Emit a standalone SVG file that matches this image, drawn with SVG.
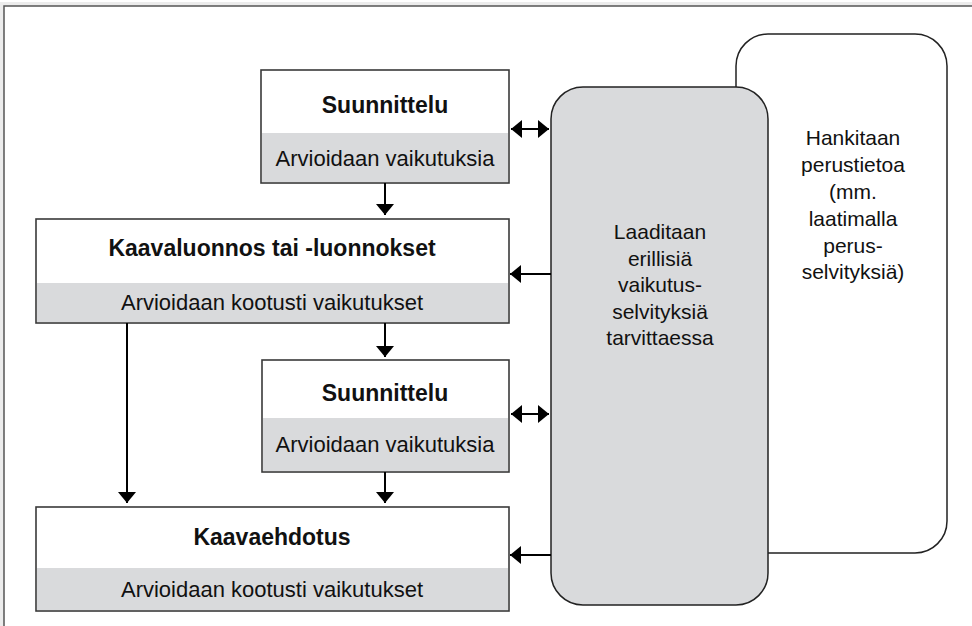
<svg xmlns="http://www.w3.org/2000/svg" width="972" height="626" viewBox="0 0 972 626">
<defs>
<style>
.box{fill:#ffffff;stroke:#3a3a3a;stroke-width:1.6}
.band{fill:#d9dadc}
.t{font-family:"Liberation Sans",Arial,sans-serif;font-size:22px;fill:#111;text-anchor:middle;dominant-baseline:central}
.b{font-weight:bold;font-size:23px}
.s{font-size:21px}
.c{stroke:#000;stroke-width:2;fill:none}
</style>
<marker id="ahd" viewBox="0 0 11 18" refX="11" refY="9" markerWidth="11" markerHeight="18" markerUnits="userSpaceOnUse" orient="auto-start-reverse">
<path d="M0,0 L11,9 L0,18 z" fill="#000"/>
</marker>
</defs>
<rect width="972" height="626" fill="#ffffff"/>
<polyline points="2,626 2,4 972,4" fill="none" stroke="#ececec" stroke-width="4"/>
<polyline points="4,626 4,6 972,6" fill="none" stroke="#555" stroke-width="1.5"/>

<g id="perustieto">
<rect x="736" y="34" width="211" height="519" rx="32" ry="32" fill="#fff" stroke="#222" stroke-width="1.5"/>
<text class="t s" x="853" y="137">Hankitaan</text>
<text class="t s" x="853" y="164">perustietoa</text>
<text class="t s" x="853" y="191">(mm.</text>
<text class="t s" x="853" y="218">laatimalla</text>
<text class="t s" x="853" y="245">perus-</text>
<text class="t s" x="853" y="271">selvityksiä)</text>
</g>

<g id="vaikutusselvitykset">
<rect x="551" y="87" width="217" height="518" rx="32" ry="32" fill="#d9dadc" stroke="#222" stroke-width="1.5"/>
<text class="t s" x="660" y="231">Laaditaan</text>
<text class="t s" x="660" y="258">erillisiä</text>
<text class="t s" x="660" y="284">vaikutus-</text>
<text class="t s" x="660" y="311">selvityksiä</text>
<text class="t s" x="660" y="337">tarvittaessa</text>
</g>

<g id="suunnittelu1">
<rect class="box" x="261" y="70" width="248" height="113"/>
<rect class="band" x="262" y="133" width="246" height="49"/>
<text class="t b" x="385" y="105">Suunnittelu</text>
<text class="t" x="385" y="158">Arvioidaan vaikutuksia</text>
</g>

<g id="kaavaluonnos">
<rect class="box" x="36" y="219" width="473" height="104"/>
<rect class="band" x="37" y="283" width="471" height="39"/>
<text class="t b" x="272" y="248">Kaavaluonnos tai -luonnokset</text>
<text class="t" x="272" y="302">Arvioidaan kootusti vaikutukset</text>
</g>

<g id="suunnittelu2">
<rect class="box" x="262" y="360" width="247" height="112"/>
<rect class="band" x="263" y="418" width="245" height="53"/>
<text class="t b" x="385" y="393">Suunnittelu</text>
<text class="t" x="385" y="444">Arvioidaan vaikutuksia</text>
</g>

<g id="kaavaehdotus">
<rect class="box" x="36" y="507" width="473" height="104"/>
<rect class="band" x="37" y="568" width="471" height="42"/>
<text class="t b" x="272" y="537">Kaavaehdotus</text>
<text class="t" x="272" y="589">Arvioidaan kootusti vaikutukset</text>
</g>

<g id="connectors">
<line class="c" x1="385" y1="183" x2="385" y2="215" marker-end="url(#ahd)"/>
<line class="c" x1="385" y1="323" x2="385" y2="357" marker-end="url(#ahd)"/>
<line class="c" x1="385" y1="472" x2="385" y2="503" marker-end="url(#ahd)"/>
<line class="c" x1="127" y1="323" x2="127" y2="503" marker-end="url(#ahd)"/>
<line class="c" x1="511" y1="129" x2="549" y2="129" marker-start="url(#ahd)" marker-end="url(#ahd)"/>
<line class="c" x1="511" y1="414" x2="549" y2="414" marker-start="url(#ahd)" marker-end="url(#ahd)"/>
<line class="c" x1="551" y1="274" x2="510" y2="274" marker-end="url(#ahd)"/>
<line class="c" x1="551" y1="555" x2="510" y2="555" marker-end="url(#ahd)"/>
</g>
</svg>
